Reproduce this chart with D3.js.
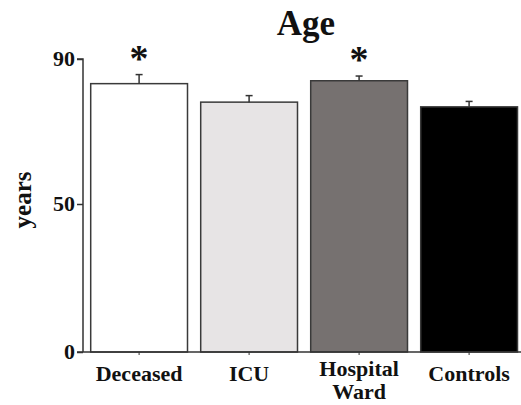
<!DOCTYPE html>
<html>
<head>
<meta charset="utf-8">
<script src="https://cdn.jsdelivr.net/npm/d3@7/dist/d3.min.js"></script>
<style>
  html, body { margin: 0; padding: 0; background: #fff; }
  svg text { font-family: "Liberation Serif", "Times New Roman", serif; font-weight: bold; fill: #111; }
</style>
</head>
<body>
<svg id="chart" width="521" height="405"></svg>
<script>
// Mean age per group with standard error
const groups = ["Deceased", "ICU", "Hospital Ward", "Controls"];
const groupLines = [["Deceased"], ["ICU"], ["Hospital", "Ward"], ["Controls"]];
const meanAge = [83.2, 78.1, 84.0, 76.8];
const errAge = [2.5, 1.8, 1.3, 1.5];
const significant = [true, false, true, false];
const fills = ["#ffffff", "#e7e4e5", "#767170", "#000000"];
const yTicks = [0, 50, 90];

const svg = d3.select("#chart");

// y axis drawn as two segments: 0–50 and 50–90
const y = d3.scaleLinear().domain([0, 50, 90]).range([352, 204, 59]);
const x = d3.scaleBand().domain(groups).range([83, 525.2])
  .paddingInner(0.12).paddingOuter(0.07);

const axisColor = "#333";

// bars
svg.append("g").selectAll("rect").data(groups).join("rect")
  .attr("x", d => x(d))
  .attr("y", (d, i) => y(meanAge[i]))
  .attr("width", x.bandwidth())
  .attr("height", (d, i) => y(0) - y(meanAge[i]))
  .attr("fill", (d, i) => fills[i])
  .attr("stroke", "#3a3a3a")
  .attr("stroke-width", 1.5);

// error bars (upper whisker only)
const eb = svg.append("g").attr("stroke", "#333").attr("stroke-width", 1.5);
groups.forEach((g, i) => {
  const cx = x(g) + x.bandwidth() / 2;
  const top = y(meanAge[i] + errAge[i]);
  eb.append("line").attr("x1", cx).attr("x2", cx)
    .attr("y1", y(meanAge[i])).attr("y2", top);
  eb.append("line").attr("x1", cx - 3.5).attr("x2", cx + 3.5)
    .attr("y1", top).attr("y2", top);
});

// significance markers
svg.append("g").selectAll("text").data(groups.filter((g, i) => significant[i])).join("text")
  .attr("x", d => x(d) + x.bandwidth() / 2)
  .attr("y", d => { const i = groups.indexOf(d); return y(meanAge[i] + errAge[i]) - 4; })
  .attr("text-anchor", "middle")
  .style("font-size", "38px")
  .text("*");

// y axis
const yAxis = svg.append("g").attr("transform", "translate(83,0)")
  .call(d3.axisLeft(y).tickValues(yTicks).tickSize(6).tickPadding(2));
yAxis.select(".domain").attr("d", `M-6,${y(90)}H0V${y(0)}`).attr("stroke", axisColor).attr("stroke-width", 1.5);
yAxis.selectAll(".tick line").attr("stroke", axisColor).attr("stroke-width", 1.5);
yAxis.selectAll(".tick text").style("font-size", "22px").attr("dy", "0.3em").attr("fill", "#111");

// x axis
const xAxis = svg.append("g").attr("transform", `translate(0,${y(0)})`)
  .call(d3.axisBottom(x).tickSize(3).tickFormat(""));
xAxis.select(".domain").attr("d", `M77,0H521`).attr("stroke", axisColor).attr("stroke-width", 1.5);
xAxis.selectAll(".tick line").attr("stroke", axisColor).attr("stroke-width", 1);

// category labels
const lbl = svg.append("g");
groups.forEach((g, i) => {
  const lines = groupLines[i];
  const t = lbl.append("text")
    .attr("x", x(g) + x.bandwidth() / 2)
    .attr("y", lines.length > 1 ? 376 : 381)
    .attr("text-anchor", "middle")
    .style("font-size", "22px");
  lines.forEach((ln, j) => {
    t.append("tspan").attr("x", x(g) + x.bandwidth() / 2)
      .attr("dy", j === 0 ? 0 : 23).text(ln);
  });
});

// axis title
svg.append("text")
  .attr("transform", "translate(31,200) rotate(-90)")
  .attr("text-anchor", "middle")
  .style("font-size", "25px")
  .text("years");

// chart title
svg.append("text")
  .attr("x", 306).attr("y", 35)
  .attr("text-anchor", "middle")
  .style("font-size", "35px")
  .text("Age");
</script>
</body>
</html>
